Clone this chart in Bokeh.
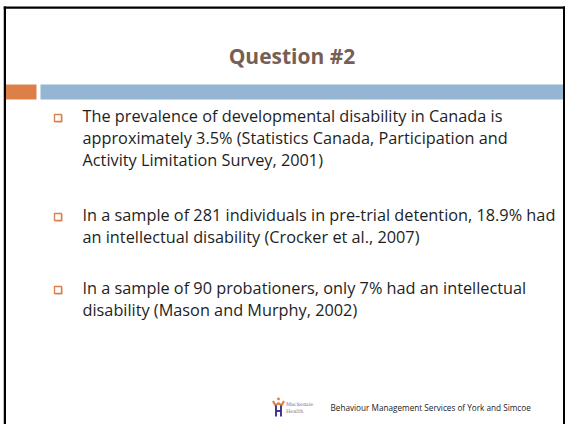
from bokeh.plotting import figure
from bokeh.models import Range1d, ColumnDataSource
from bokeh.core.properties import value
from bokeh.embed import file_html
from bokeh.resources import INLINE

# ---- content ----
title = "Question #2"
bullets = [
    ["The prevalence of developmental disability in Canada is",
     "approximately 3.5% (Statistics Canada, Participation and",
     "Activity Limitation Survey, 2001)"],
    ["In a sample of 281 individuals in pre-trial detention, 18.9% had",
     "an intellectual disability (Crocker et al., 2007)"],
    ["In a sample of 90 probationers, only 7% had an intellectual",
     "disability (Mason and Murphy, 2002)"],
]
footer = "Behaviour Management Services of York and Simcoe"
logo_words = ["Mackenzie", "Health"]

# ---- layout (page pixel coordinates) ----
FX, FY = 3, 5
W, H = 562, 419
bullet_first_baselines = [123, 222, 295]
line_gap = 22
text_x = 82
bullet_x = 57.5
BODY_SHIFT = 8.0   # renderer places alphabetic text slightly low

TITLE_C = "#775F55"
ORANGE = "#DD8047"
BLUE = "#94B6D2"
TXT = "#1E1E1E"

p = figure(width=W, height=H, output_backend="svg", toolbar_location=None,
           x_range=Range1d(FX, FX + W), y_range=Range1d(FY + H, FY),
           x_axis_type=None, y_axis_type=None, min_border=0,
           margin=(FY, 0, 0, FX))
p.grid.visible = False
p.outline_line_color = None
p.background_fill_color = "white"
p.border_fill_color = "white"

# slide frame
p.quad(left=[3, 3, 562.5], right=[5.5, 565, 565], top=[6, 6, 6], bottom=[430, 8.3, 430],
       fill_color="black", line_color=None)

# header bars
p.quad(left=[5.5], right=[36], top=[84], bottom=[99], fill_color=ORANGE, line_color=None)
p.quad(left=[40], right=[562.5], top=[84], bottom=[99], fill_color=BLUE, line_color=None)

# title
p.text(x=[291.5], y=[63 - 8], text=[title], text_font=value("Open Sans"),
       text_font_style="bold", text_font_size="21px", text_color=TITLE_C,
       text_align="center", text_baseline="alphabetic")

# bullets
xs, ys, ts = [], [], []
bx, by = [], []
for lines, b0 in zip(bullets, bullet_first_baselines):
    bx.append(bullet_x)
    by.append(b0 - 5.5)
    for i, t in enumerate(lines):
        xs.append(text_x)
        ys.append(b0 + i * line_gap - BODY_SHIFT)
        ts.append(t)
src = ColumnDataSource(dict(x=xs, y=ys, text=ts))
p.text(x="x", y="y", text="text", source=src, text_font=value("Open Sans"),
       text_font_size="16.3px", text_color=TXT, text_baseline="alphabetic")

# bullet squares (with small shadow)
p.rect(x=[v + 0.8 for v in bx], y=[v + 0.8 for v in by], width=7, height=7,
       fill_color="#C0602A", line_color=None)
p.rect(x=bx, y=by, width=7, height=7, fill_color="white", line_color=ORANGE, line_width=1.4)

# footer
p.text(x=[330], y=[411 - 4], text=[footer], text_font=value("Open Sans"),
       text_font_size="8.2px", text_color="#222222", text_baseline="alphabetic")

# logo icon
p.circle(x=[278], y=[398.5], radius=1.4, fill_color=ORANGE, line_color=None)
p.multi_line(xs=[[272.5, 275, 278, 281, 283.5]], ys=[[400.5, 405, 402.5, 405, 400.5]],
             line_color=ORANGE, line_width=2.2)
p.multi_line(xs=[[275.5, 275.5], [280.5, 280.5], [275.5, 280.5]],
             ys=[[405, 416], [405, 416], [410.5, 410.5]],
             line_color="#3B2F8C", line_width=1.9)
p.text(x=[285.5, 285.5], y=[406 - 2.5, 413 - 2.5], text=logo_words,
       text_font=value("DejaVu Serif"),
       text_font_size="5px", text_color="#7070A0", text_baseline="alphabetic")

open("out.html", "w").write(file_html(p, INLINE))
